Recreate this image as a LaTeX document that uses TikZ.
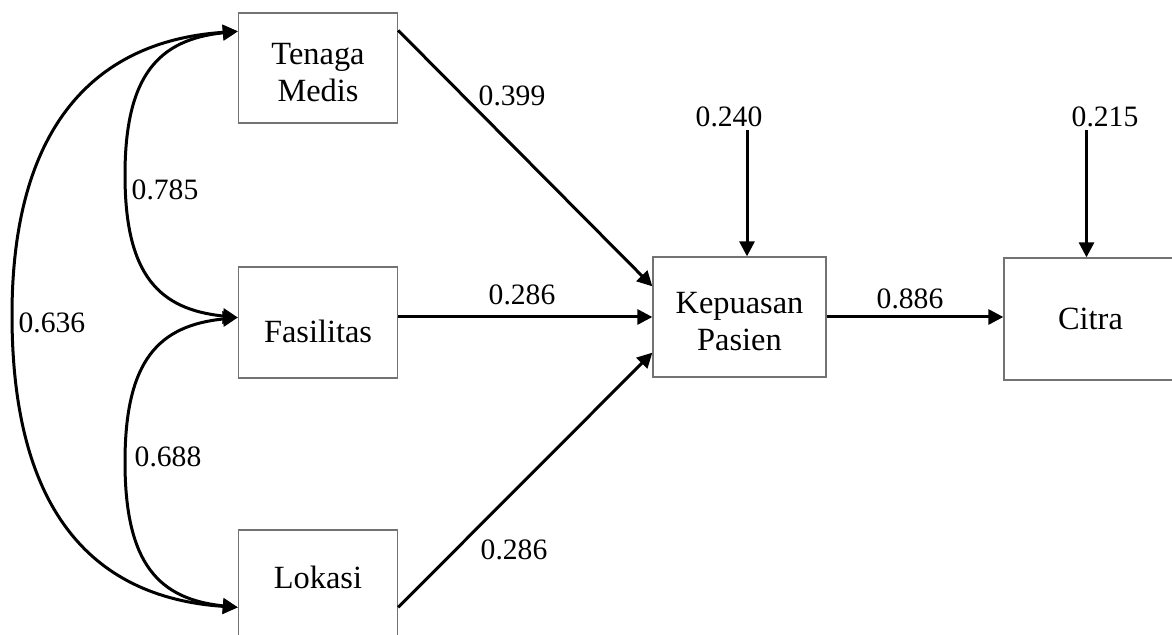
\documentclass[tikz,border=0pt]{standalone}
\usepackage{fontspec}
\setmainfont{Liberation Serif}
\usetikzlibrary{arrows.meta}

\begin{document}
\begin{tikzpicture}[
  x=0.5pt, y=-0.5pt,
  box/.style={draw=black!55, line width=0.65pt, minimum width=79.5pt, minimum height=55pt, inner sep=0pt, align=center, font=\fontsize{16.2pt}{18.5pt}\selectfont},
  coef/.style={inner sep=0pt, font=\fontsize{14.8pt}{17pt}\selectfont},
  link/.style={line width=1.5pt, -{Triangle[length=7.5pt,width=7.5pt]}},
  corr/.style={line width=1.5pt, {Triangle[length=7.5pt,width=7.5pt]}-{Triangle[length=7.5pt,width=7.5pt]}}
]
\useasboundingbox (0,0) rectangle (1172,635);
\clip (0,0) rectangle (1172,635);
\node[box] (tm) at (318,68) {\rule{0pt}{15pt}Tenaga\\Medis};
\node[box, minimum height=55.5pt] (fa) at (318,322.5) {\raisebox{-4.25pt}[\height][\depth]{Fasilitas}};
\node[box] (lo) at (318,585) {\raisebox{4pt}[\height][\depth]{Lokasi}};
\node[box, minimum width=86.5pt, minimum height=60pt] (kp) at (739.5,317) {\rule{0pt}{15.5pt}Kepuasan\\Pasien};
\node[box, minimum width=86.5pt, minimum height=61pt] (ct) at (1090.5,319) {Citra};
\node[coef] (e1) at (729,117) {0.240};
\node[coef] (e2) at (1105,117) {0.215};
\node[coef] (p1) at (512,96) {0.399};
\node[coef] (p2) at (522,295) {0.286};
\node[coef] (p3) at (514,550) {0.286};
\node[coef] (p4) at (910,299) {0.886};
\node[coef] (r1) at (165,190) {0.785};
\node[coef] (r2) at (168,457) {0.688};
\node[coef] (r3) at (52,323) {0.636};
\draw[link] ([yshift=-9pt]tm.north east) -- ([yshift=-15pt]kp.north west);
\draw[link] (fa.east |- kp.west) -- (kp.west);
\draw[link] ([yshift=-39pt]lo.north east) -- ([yshift=12.5pt]kp.south west);
\draw[link] (kp.east) -- (kp.east -| ct.west);
\draw[link] ([xshift=3.75pt,yshift=-1.5pt]kp.north |- e1.south) -- ([xshift=3.75pt]kp.north);
\draw[link] ([xshift=-2pt,yshift=-1.5pt]ct.north |- e2.south) -- ([xshift=-2pt]ct.north);
\draw[corr] ([yshift=-9.5pt]tm.north west) .. controls +(-79,8) and +(0,-100) .. (125,175) .. controls +(0,100) and +(-79,-8) .. ([yshift=2.5pt]fa.west);
\draw[corr] ([yshift=2.5pt]fa.west) .. controls +(-79,8) and +(0,-102) .. (125,462) .. controls +(0,102) and +(-79,-8) .. ([yshift=-39pt]lo.north west);
\draw[corr] ([yshift=-9.5pt]tm.north west) .. controls +(-150,10) and +(0,-180) .. (12,315) .. controls +(0,190) and +(-150,-10) .. ([yshift=-39pt]lo.north west);
\end{tikzpicture}
\end{document}
